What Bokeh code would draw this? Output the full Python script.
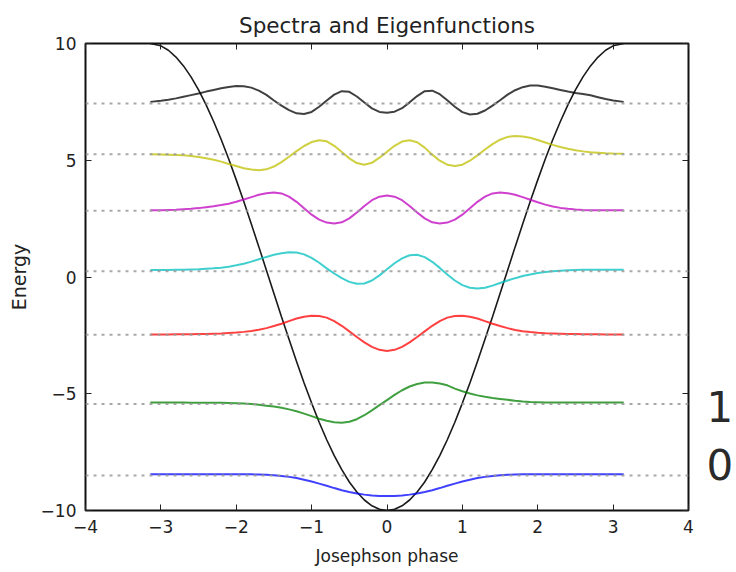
from bokeh.plotting import figure
from bokeh.models import Span, LinearAxis, FixedTicker
from bokeh.embed import file_html
from bokeh.resources import INLINE

# phase grid (radians) on which every curve is sampled
PHASE = [-3.14, -3.0, -2.9, -2.8, -2.7, -2.6, -2.5, -2.4, -2.3, -2.2, -2.1,
         -2.0, -1.9, -1.8, -1.7, -1.6, -1.5, -1.4, -1.3, -1.2, -1.1,
         -1.0, -0.9, -0.8, -0.7, -0.6, -0.5, -0.4, -0.3, -0.2, -0.1,
         0.0, 0.1, 0.2, 0.3, 0.4, 0.5, 0.6, 0.7, 0.8, 0.9,
         1.0, 1.1, 1.2, 1.3, 1.4, 1.5, 1.6, 1.7, 1.8, 1.9,
         2.0, 2.1, 2.2, 2.3, 2.4, 2.5, 2.6, 2.7, 2.8, 2.9, 3.0, 3.14]

# Josephson potential
POTENTIAL = [10.00, 9.90, 9.71, 9.42, 9.04, 8.57, 8.01, 7.37, 6.66, 5.89, 5.05,
             4.16, 3.23, 2.27, 1.29, 0.29, -0.71, -1.70, -2.67, -3.62, -4.54,
             -5.40, -6.22, -6.97, -7.65, -8.25, -8.78, -9.21, -9.55, -9.80, -9.95,
             -10.00, -9.95, -9.80, -9.55, -9.21, -8.78, -8.25, -7.65, -6.97, -6.22,
             -5.40, -4.54, -3.62, -2.67, -1.70, -0.71, 0.29, 1.29, 2.27, 3.23,
             4.16, 5.05, 5.89, 6.66, 7.37, 8.01, 8.57, 9.04, 9.42, 9.71, 9.90, 10.00]

# eigen-energies (dotted reference lines)
LEVELS = [-8.50, -5.44, -2.47, 0.25, 2.84, 5.26, 7.43]

# eigenfunctions, drawn as offsets around their own energy level
PSI_0 = [0.05, 0.05, 0.05, 0.05, 0.05, 0.05, 0.05, 0.05, 0.05, 0.05, 0.05,
         0.05, 0.05, 0.05, 0.04, 0.03, 0.01, -0.02, -0.06, -0.11, -0.18,
         -0.26, -0.35, -0.44, -0.54, -0.63, -0.71, -0.77, -0.82, -0.86, -0.88,
         -0.88, -0.88, -0.86, -0.82, -0.77, -0.71, -0.63, -0.54, -0.44, -0.35,
         -0.26, -0.18, -0.11, -0.06, -0.02, 0.01, 0.03, 0.04, 0.05, 0.05,
         0.05, 0.05, 0.05, 0.05, 0.05, 0.05, 0.05, 0.05, 0.05, 0.05, 0.05, 0.05]

PSI_1 = [0.06, 0.06, 0.06, 0.06, 0.06, 0.05, 0.05, 0.05, 0.05, 0.05, 0.04,
         0.03, 0.02, 0.00, -0.03, -0.07, -0.11, -0.16, -0.23, -0.31, -0.41,
         -0.52, -0.63, -0.72, -0.78, -0.80, -0.76, -0.65, -0.48, -0.27, -0.05,
         0.17, 0.39, 0.59, 0.75, 0.86, 0.92, 0.92, 0.88, 0.80, 0.66,
         0.55, 0.45, 0.37, 0.31, 0.26, 0.22, 0.18, 0.14, 0.11, 0.09,
         0.08, 0.07, 0.06, 0.06, 0.06, 0.06, 0.06, 0.06, 0.06, 0.06, 0.06, 0.06]

PSI_2 = [0.01, 0.01, 0.01, 0.02, 0.02, 0.02, 0.03, 0.03, 0.04, 0.05, 0.07,
         0.09, 0.12, 0.16, 0.21, 0.28, 0.37, 0.47, 0.58, 0.69, 0.77,
         0.81, 0.80, 0.73, 0.58, 0.38, 0.14, -0.10, -0.33, -0.52, -0.65,
         -0.70, -0.65, -0.52, -0.33, -0.10, 0.14, 0.38, 0.58, 0.73, 0.80,
         0.81, 0.77, 0.69, 0.58, 0.47, 0.37, 0.28, 0.20, 0.15, 0.11,
         0.08, 0.06, 0.05, 0.04, 0.03, 0.03, 0.02, 0.02, 0.02, 0.01, 0.01, 0.01]

PSI_3 = [0.05, 0.05, 0.05, 0.06, 0.06, 0.07, 0.08, 0.10, 0.12, 0.15, 0.19,
         0.25, 0.32, 0.41, 0.51, 0.61, 0.70, 0.77, 0.81, 0.80, 0.72,
         0.57, 0.36, 0.12, -0.10, -0.30, -0.46, -0.54, -0.53, -0.40, -0.18,
         0.08, 0.34, 0.55, 0.68, 0.70, 0.60, 0.40, 0.14, -0.14, -0.40,
         -0.60, -0.71, -0.74, -0.71, -0.62, -0.51, -0.40, -0.30, -0.21, -0.14,
         -0.08, -0.04, 0.00, 0.02, 0.04, 0.05, 0.06, 0.06, 0.06, 0.06, 0.06, 0.06]

PSI_4 = [0.02, 0.02, 0.03, 0.04, 0.06, 0.08, 0.11, 0.15, 0.19, 0.24, 0.30,
         0.38, 0.48, 0.58, 0.68, 0.75, 0.78, 0.74, 0.60, 0.38, 0.10,
         -0.17, -0.38, -0.51, -0.55, -0.50, -0.33, -0.08, 0.20, 0.45, 0.60,
         0.65, 0.60, 0.45, 0.20, -0.08, -0.33, -0.50, -0.55, -0.51, -0.38,
         -0.17, 0.10, 0.38, 0.60, 0.74, 0.78, 0.75, 0.68, 0.58, 0.47,
         0.36, 0.26, 0.18, 0.12, 0.08, 0.05, 0.03, 0.02, 0.02, 0.02, 0.02, 0.02]

PSI_5 = [0.00, -0.01, -0.02, -0.03, -0.05, -0.08, -0.12, -0.17, -0.24, -0.32, -0.42,
         -0.51, -0.60, -0.66, -0.69, -0.65, -0.53, -0.34, -0.11, 0.13, 0.35,
         0.52, 0.60, 0.55, 0.36, 0.09, -0.18, -0.38, -0.45, -0.37, -0.15,
         0.10, 0.36, 0.54, 0.60, 0.51, 0.28, -0.02, -0.28, -0.45, -0.51,
         -0.45, -0.28, -0.05, 0.20, 0.43, 0.62, 0.74, 0.78, 0.76, 0.70,
         0.61, 0.50, 0.40, 0.31, 0.23, 0.17, 0.12, 0.08, 0.06, 0.04, 0.03, 0.02]

PSI_6 = [0.07, 0.12, 0.16, 0.22, 0.29, 0.36, 0.43, 0.51, 0.58, 0.65, 0.71,
         0.75, 0.74, 0.68, 0.55, 0.37, 0.13, -0.09, -0.28, -0.42, -0.45,
         -0.36, -0.14, 0.13, 0.38, 0.53, 0.50, 0.30, 0.04, -0.21, -0.36,
         -0.40, -0.35, -0.20, 0.05, 0.32, 0.53, 0.55, 0.40, 0.14, -0.14,
         -0.37, -0.47, -0.44, -0.30, -0.09, 0.14, 0.38, 0.57, 0.70, 0.77,
         0.77, 0.72, 0.65, 0.58, 0.51, 0.45, 0.41, 0.35, 0.27, 0.19, 0.13, 0.07]

STATES = [PSI_0, PSI_1, PSI_2, PSI_3, PSI_4, PSI_5, PSI_6]
COLORS = ["#0000ff", "#008000", "#ff0000", "#00bfbf", "#bf00bf", "#bfbf00", "#000000"]

X_TICKS = [-4, -3, -2, -1, 0, 1, 2, 3, 4]
Y_TICKS = [-10, -5, 0, 5, 10]

# large digits in the right margin, and the heights (energy units) they sit at
MARGIN_TEXT = ["1", "0"]
MARGIN_TEXT_AT = [-5.55, -8.05]

FONT = "DejaVu Sans"

p = figure(width=736, height=572, x_range=(-4, 4), y_range=(-10, 10),
           output_backend="svg", toolbar_location=None,
           title="Spectra and Eigenfunctions",
           min_border_left=85, min_border_right=48,
           min_border_top=43, min_border_bottom=62)

p.title.align = "center"
p.title.text_font = FONT
p.title.text_font_style = "normal"
p.title.text_font_size = "21.5px"
p.title.text_color = "#222222"
p.title.standoff = 12

p.grid.visible = False
p.outline_line_color = "#111111"
p.outline_line_width = 2
p.background_fill_color = "white"
p.border_fill_color = "white"


def style_axis(ax, ticks, labels=True):
    ax.ticker = FixedTicker(ticks=ticks)
    ax.major_tick_in = 6
    ax.major_tick_out = 0
    ax.minor_tick_in = 0
    ax.minor_tick_out = 0
    ax.major_tick_line_color = "#222222"
    ax.major_tick_line_width = 1
    ax.axis_line_color = None
    ax.major_label_text_font = FONT
    ax.major_label_text_font_size = "17px"
    ax.major_label_text_color = "#222222"
    ax.major_label_standoff = 9
    if labels:
        ax.major_label_overrides = {t: str(t).replace("-", "\u2212") for t in ticks}
    else:
        ax.major_label_overrides = {t: "" for t in ticks}
        ax.major_label_standoff = 0


style_axis(p.xaxis[0], X_TICKS)
style_axis(p.yaxis[0], Y_TICKS)
p.xaxis.axis_label = "Josephson phase"
p.yaxis.axis_label = "Energy"
for ax, size, standoff in ((p.xaxis[0], "17px", 10), (p.yaxis[0], "19px", 8)):
    ax.axis_label_text_font = FONT
    ax.axis_label_text_font_style = "normal"
    ax.axis_label_text_font_size = size
    ax.axis_label_text_color = "#222222"
    ax.axis_label_standoff = standoff

top_axis = LinearAxis()
style_axis(top_axis, X_TICKS, labels=False)
p.add_layout(top_axis, "above")
right_axis = LinearAxis()
style_axis(right_axis, Y_TICKS, labels=False)
p.add_layout(right_axis, "right")

# tick-less axis that carries the two large margin digits
margin_axis = LinearAxis(ticker=FixedTicker(ticks=MARGIN_TEXT_AT))
margin_axis.major_label_overrides = dict(zip(MARGIN_TEXT_AT, MARGIN_TEXT))
margin_axis.major_tick_in = 0
margin_axis.major_tick_out = 0
margin_axis.major_tick_line_color = None
margin_axis.minor_tick_line_color = None
margin_axis.axis_line_color = None
margin_axis.major_label_text_font = FONT
margin_axis.major_label_text_font_size = "42px"
margin_axis.major_label_text_color = "#2a2a2a"
margin_axis.major_label_standoff = 18
p.add_layout(margin_axis, "right")

# potential well
p.line(PHASE, POTENTIAL, line_color="#1a1a1a", line_width=1.6)

# eigenfunctions around their levels
for level, psi, color in zip(LEVELS, STATES, COLORS):
    ys = [level + v for v in psi]
    p.line(PHASE, ys, line_color=color, line_width=2, line_alpha=0.75)

# dotted energy levels
for level in LEVELS:
    p.add_layout(Span(location=level, dimension="width", line_color="#9a9a9a",
                      line_width=2, line_dash="3 5", line_alpha=0.85))

open("out.html", "w").write(file_html(p, INLINE))
